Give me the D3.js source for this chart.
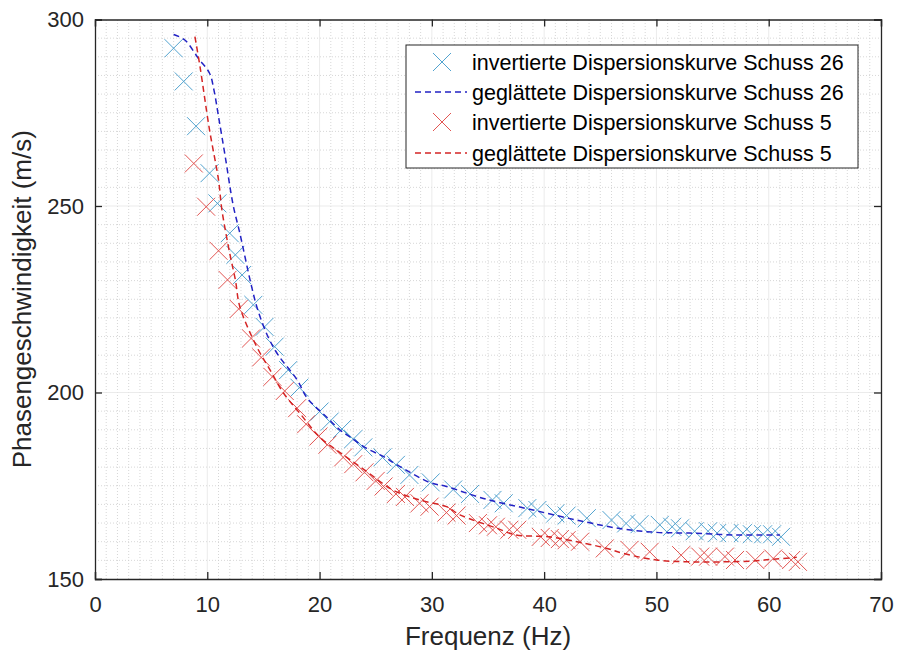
<!DOCTYPE html>
<html>
<head>
<meta charset="utf-8">
<script src="https://cdn.jsdelivr.net/npm/d3@7"></script>
<style>
  body { margin: 0; background: #fff; }
  text { font-family: "Liberation Sans", Arial, sans-serif; }
</style>
</head>
<body>
<div id="chart"></div>
<script>
const W = 897, H = 657;
const M = { left: 95, right: 16, top: 19.5, bottom: 78 };

const xTicks = [0, 10, 20, 30, 40, 50, 60, 70];
const yTicks = [150, 200, 250, 300];

// inverted dispersion curve, shot 26 (frequency Hz, phase velocity m/s)
const inv26 = [
  [7.0, 292.3], [7.9, 283.4], [9.0, 271.4], [10.2, 258.8], [10.9, 250.7],
  [12.0, 242.7], [12.5, 236.9], [13.1, 231.5], [14.1, 223.5], [15.1, 217.6],
  [16.0, 212.3], [17.2, 206.0], [18.2, 201.3], [20.0, 194.9], [20.9, 192.2],
  [22.0, 190.2], [23.0, 187.5], [23.9, 185.3], [25.6, 182.6], [26.8, 180.6],
  [28.0, 177.9], [29.9, 175.9], [31.9, 174.0], [33.4, 172.8], [35.4, 171.2],
  [36.4, 170.3], [38.5, 169.0], [39.4, 168.5], [41.0, 167.6], [42.0, 167.0],
  [43.8, 166.3], [46.0, 165.8], [47.3, 164.9], [48.5, 164.7], [50.3, 164.5],
  [51.4, 164.0], [52.1, 163.6], [53.4, 162.8], [54.6, 162.8], [55.4, 162.3],
  [56.5, 162.3], [57.7, 162.3], [58.5, 162.0], [59.5, 162.0], [60.3, 162.0],
  [61.1, 161.3]
];

const smooth26 = [
  [7.0, 296], [8.0, 294.5], [9.2, 289.6], [10.2, 285.6], [10.6, 281],
  [11.0, 274], [11.6, 263.2], [12.3, 250.3], [12.9, 242.7], [13.9, 229],
  [14.5, 222.1], [15.4, 215], [16.3, 210.1], [18.0, 203.4], [18.9, 198.5],
  [20.6, 193.5], [21.8, 190], [22.7, 188.1], [24.2, 185], [25.7, 182.8],
  [26.9, 180.6], [29.8, 175.9], [31.3, 174.8], [34.6, 171.6], [39.0, 168.5],
  [43.5, 165.4], [47.0, 163.4], [50.0, 162.5], [53.0, 162.3], [57.0, 161.8],
  [61.0, 161.8]
];

// inverted dispersion curve, shot 5
const inv5 = [
  [8.8, 261.4], [9.9, 249.8], [11.0, 238.0], [11.8, 230.2], [12.8, 222.4],
  [13.9, 214.5], [14.8, 209.4], [15.8, 204.2], [16.9, 200.4], [18.0, 195.8],
  [18.8, 191.5], [19.9, 188.2], [20.7, 186.0], [22.1, 182.6], [23.0, 180.8],
  [24.0, 178.6], [25.0, 176.3], [25.7, 174.8], [26.8, 172.8], [27.6, 172.0],
  [28.9, 170.3], [29.8, 169.4], [31.3, 167.8], [32.2, 167.0], [34.1, 165.0],
  [35.0, 164.4], [35.7, 164.0], [36.9, 163.2], [37.6, 163.2], [39.7, 161.3],
  [40.5, 161.0], [41.4, 160.7], [42.0, 160.4], [43.2, 160.0], [45.4, 158.2],
  [47.6, 157.8], [49.4, 157.3], [52.2, 156.4], [53.9, 156.0], [54.6, 156.0],
  [56.1, 156.0], [57.0, 155.1], [58.8, 155.1], [60.4, 155.5], [62.0, 155.1],
  [62.6, 154.6]
];

const smooth5 = [
  [8.9, 295.4], [9.35, 287.4], [10.2, 270.4], [11.0, 257], [11.3, 249],
  [12.0, 237.3], [12.5, 230.2], [12.9, 223], [14.4, 212.3], [15.6, 206],
  [16.8, 199.8], [18.25, 194.4], [20.0, 188.1], [22.1, 183.3], [24.2, 178.8],
  [26.5, 173.9], [28.9, 171.2], [31.3, 169.4], [32.5, 167.2], [35.8, 163.6],
  [37.5, 161.8], [40.5, 161.3], [43.5, 159.6], [45.6, 158.2], [47.0, 156.9],
  [50.0, 155.1], [53.0, 154.6], [56.0, 154.6], [58.5, 154.8], [60.4, 155.3],
  [62.5, 155.8]
];

const legendLabels = [
  'invertierte Dispersionskurve Schuss 26',
  'geglättete Dispersionskurve Schuss 26',
  'invertierte Dispersionskurve Schuss 5',
  'geglättete Dispersionskurve Schuss 5'
];

const C_INV26 = '#52a3cf', C_SM26 = '#2222c4', C_INV5 = '#e25552', C_SM5 = '#d42424';
const AXIS = '#262626';

const svg = d3.select('#chart').append('svg')
  .attr('width', W).attr('height', H)
  .style('background', '#fff');

const x = d3.scaleLinear().domain([0, 70]).range([M.left, W - M.right]);
const y = d3.scaleLinear().domain([150, 300]).range([H - M.bottom, M.top]);

// grid: minor dotted, major faint solid
const grid = svg.append('g');
grid.selectAll('.gxm').data(d3.range(1, 70).filter(v => v % 10 !== 0)).join('line')
  .attr('x1', d => x(d)).attr('x2', d => x(d))
  .attr('y1', y(150)).attr('y2', y(300))
  .style('stroke', '#cdcdcd').style('stroke-width', 0.8).style('stroke-dasharray', '1,2');
grid.selectAll('.gym').data(d3.range(155, 300, 5).filter(v => v % 50 !== 0)).join('line')
  .attr('y1', d => y(d)).attr('y2', d => y(d))
  .attr('x1', x(0)).attr('x2', x(70))
  .style('stroke', '#cdcdcd').style('stroke-width', 0.8).style('stroke-dasharray', '1,2');
grid.selectAll('.gx').data(xTicks.slice(1, -1)).join('line')
  .attr('x1', d => x(d)).attr('x2', d => x(d))
  .attr('y1', y(150)).attr('y2', y(300))
  .style('stroke', '#e6e6e6').style('stroke-width', 0.8);
grid.selectAll('.gy').data(yTicks.slice(1, -1)).join('line')
  .attr('y1', d => y(d)).attr('y2', d => y(d))
  .attr('x1', x(0)).attr('x2', x(70))
  .style('stroke', '#e6e6e6').style('stroke-width', 0.8);

function crosses(data, color) {
  const s = 9;
  svg.append('g').selectAll('path').data(data).join('path')
    .attr('d', d => {
      const cx = x(d[0]), cy = y(d[1]);
      return `M${cx - s},${cy - s}L${cx + s},${cy + s}M${cx - s},${cy + s}L${cx + s},${cy - s}`;
    })
    .style('stroke', color).style('stroke-width', 1).style('fill', 'none');
}

const smoothLine = d3.line().x(d => x(d[0])).y(d => y(d[1])).curve(d3.curveCatmullRom);

crosses(inv26, C_INV26);
svg.append('path').datum(smooth26).attr('d', smoothLine)
  .style('fill', 'none').style('stroke', C_SM26).style('stroke-width', 1.5).style('stroke-dasharray', '6,4');
crosses(inv5, C_INV5);
svg.append('path').datum(smooth5).attr('d', smoothLine)
  .style('fill', 'none').style('stroke', C_SM5).style('stroke-width', 1.5).style('stroke-dasharray', '6,4');

// axes (box with inward ticks on all sides)
const tickLen = 7;
const xb = svg.append('g').attr('transform', `translate(0,${y(150)})`)
  .call(d3.axisBottom(x).tickValues(xTicks).tickSize(-tickLen).tickPadding(17));
const yl = svg.append('g').attr('transform', `translate(${x(0)},0)`)
  .call(d3.axisLeft(y).tickValues(yTicks).tickSize(-tickLen).tickPadding(11));
const xt = svg.append('g').attr('transform', `translate(0,${y(300)})`)
  .call(d3.axisTop(x).tickValues(xTicks).tickSize(-tickLen).tickFormat(''));
const yr = svg.append('g').attr('transform', `translate(${x(70)},0)`)
  .call(d3.axisRight(y).tickValues(yTicks).tickSize(-tickLen).tickFormat(''));

[xb, yl, xt, yr].forEach(a => {
  a.selectAll('.domain').style('stroke', AXIS).style('stroke-width', 1.3);
  a.selectAll('.tick line').style('stroke', AXIS).style('stroke-width', 1.3);
  a.selectAll('.tick text').style('fill', AXIS).style('font-size', '22px')
    .style('font-family', '"Liberation Sans", Arial, sans-serif');
});
xb.selectAll('.tick text').attr('dy', '0.71em');

svg.append('text')
  .attr('x', (x(0) + x(70)) / 2).attr('y', 645)
  .attr('text-anchor', 'middle')
  .style('font-size', '26px').style('fill', AXIS)
  .text('Frequenz (Hz)');

svg.append('text')
  .attr('transform', `translate(31,${(y(150) + y(300)) / 2}) rotate(-90)`)
  .attr('text-anchor', 'middle')
  .style('font-size', '26px').style('fill', AXIS)
  .text('Phasengeschwindigkeit (m/s)');

// legend
const lg = svg.append('g').attr('transform', 'translate(406,45)');
lg.append('rect').attr('width', 452).attr('height', 123)
  .style('fill', '#fff').style('stroke', AXIS).style('stroke-width', 1);
const rowY = [17, 47, 77, 108];
const legendStyles = [
  { type: 'x', color: C_INV26 },
  { type: 'l', color: C_SM26 },
  { type: 'x', color: C_INV5 },
  { type: 'l', color: C_SM5 }
];
legendLabels.forEach((t, i) => {
  const st = legendStyles[i], cy = rowY[i];
  if (st.type === 'x') {
    const s = 9, cx = 36;
    lg.append('path')
      .attr('d', `M${cx - s},${cy - s}L${cx + s},${cy + s}M${cx - s},${cy + s}L${cx + s},${cy - s}`)
      .style('stroke', st.color).style('stroke-width', 1).style('fill', 'none');
  } else {
    lg.append('line').attr('x1', 9).attr('x2', 61).attr('y1', cy).attr('y2', cy)
      .style('stroke', st.color).style('stroke-width', 1.5).style('stroke-dasharray', '6,4');
  }
  lg.append('text').attr('x', 66).attr('y', cy).attr('dy', '0.35em')
    .style('font-size', '21.5px').style('fill', '#000')
    .text(t);
});
</script>
</body>
</html>
